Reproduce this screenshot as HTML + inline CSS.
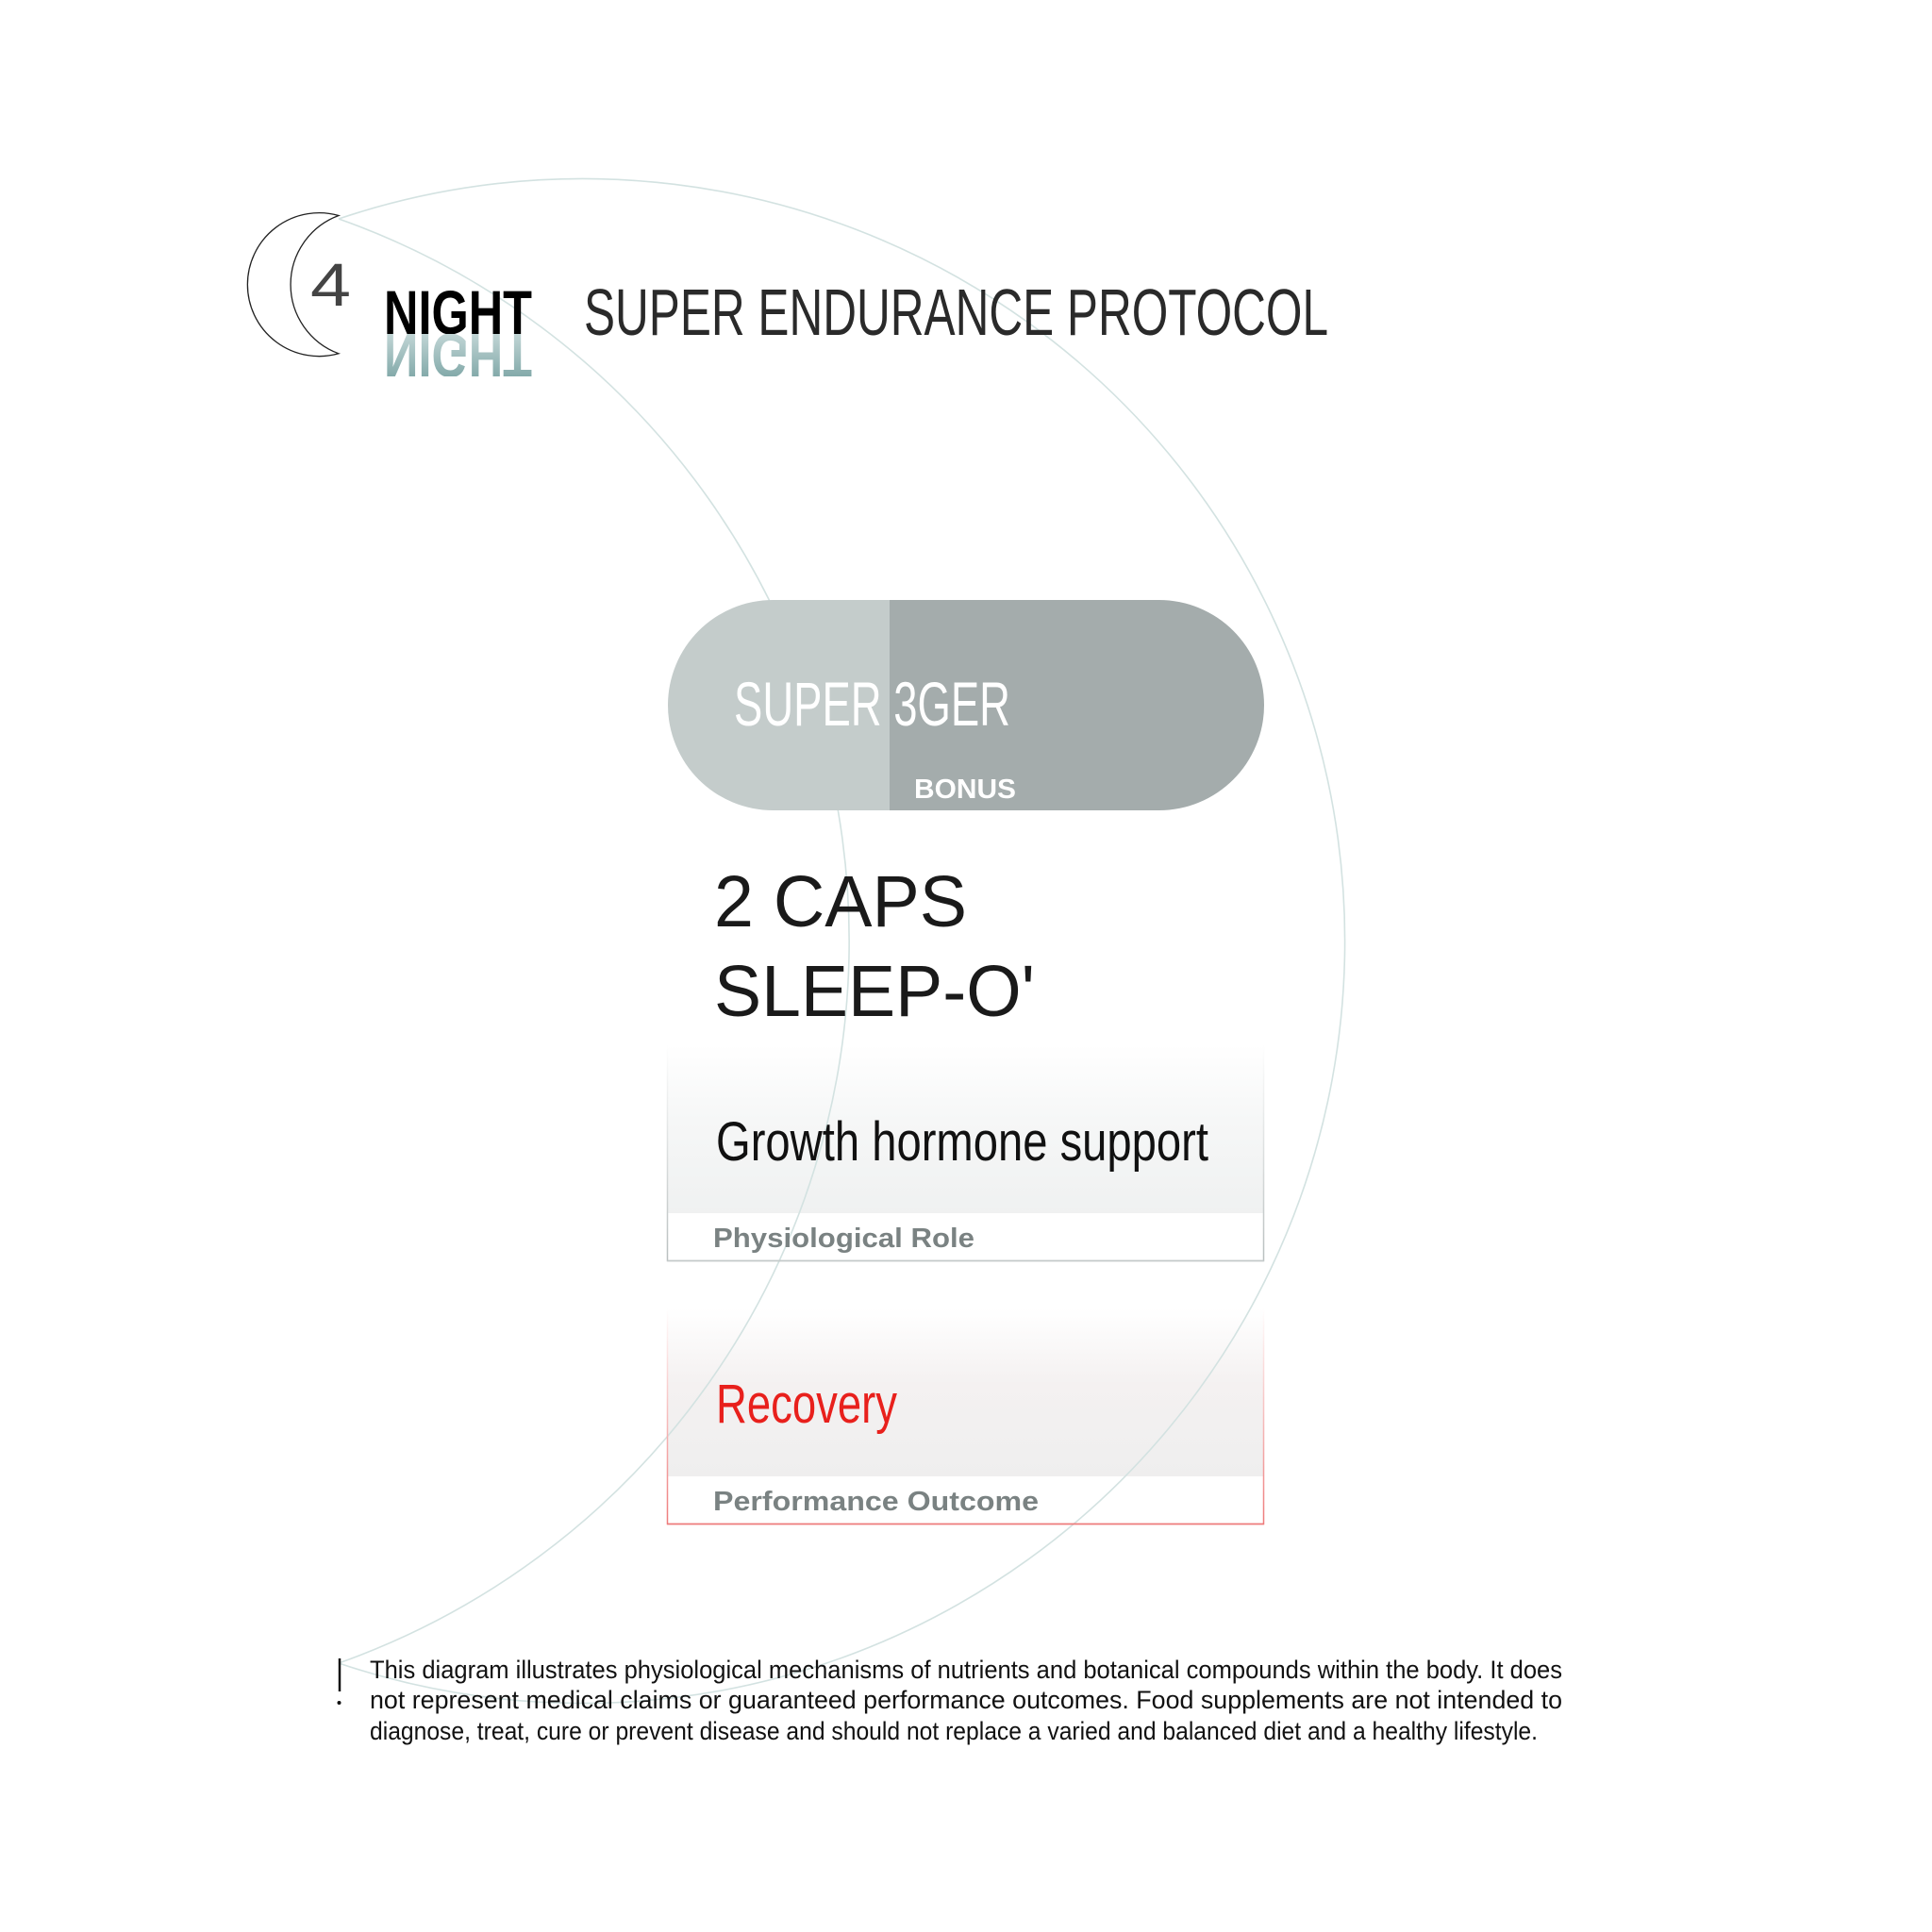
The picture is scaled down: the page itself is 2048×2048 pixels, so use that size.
<!DOCTYPE html>
<html><head><meta charset="utf-8"><style>
html,body{margin:0;padding:0;background:#fff;}
svg{display:block;}
.n{font-family:"Liberation Sans Narrow","Liberation Sans",sans-serif;}
.s{font-family:"Liberation Sans",sans-serif;}
</style></head><body>
<svg width="2048" height="2048" viewBox="0 0 2048 2048" xmlns="http://www.w3.org/2000/svg">
<defs>
<linearGradient id="refl" x1="0" y1="0" x2="0" y2="1">
<stop offset="0" stop-color="#6f9c9c"/><stop offset="1" stop-color="#d4e2e2"/>
</linearGradient>
<linearGradient id="g1" x1="0" y1="0" x2="0" y2="1">
<stop offset="0" stop-color="#ffffff"/><stop offset="0.35" stop-color="#f6f7f7"/><stop offset="1" stop-color="#eceeee"/>
</linearGradient>
<linearGradient id="g2" x1="0" y1="0" x2="0" y2="1">
<stop offset="0" stop-color="#ffffff"/><stop offset="0.35" stop-color="#f4f1f1"/><stop offset="1" stop-color="#eceded"/>
</linearGradient>
<linearGradient id="b1" x1="0" y1="0" x2="0" y2="1">
<stop offset="0" stop-color="#ffffff"/><stop offset="1" stop-color="#b9bfbf"/>
</linearGradient>
<linearGradient id="b2" x1="0" y1="0" x2="0" y2="1">
<stop offset="0" stop-color="#ffffff"/><stop offset="1" stop-color="#ee7b7b"/>
</linearGradient>
<clipPath id="rc"><rect x="400" y="354" width="200" height="45"/></clipPath>
</defs>

<!-- boxes backgrounds -->
<rect x="707" y="1107" width="633" height="230" fill="url(#g1)"/>
<rect x="707" y="1286" width="633" height="51" fill="#fff"/>
<rect x="707" y="1387" width="633" height="229" fill="url(#g2)"/>
<rect x="707" y="1565" width="633" height="51" fill="#fff"/>

<!-- arcs (over boxes, faint) -->
<path d="M359,232 A808,808 0 1,1 359,1763" fill="none" stroke="#d3e2e1" stroke-width="1.6"/>
<path d="M359,232 A812,812 0 0,1 359,1763" fill="none" stroke="#d3e2e1" stroke-width="1.6"/>

<!-- moon -->
<path d="M359,228.5 A76,76 0 1,0 359,374.8 A78,78 0 0,1 359,228.5 Z" fill="none" stroke="#222" stroke-width="1.3"/>
<text x="329" y="324" class="s" font-size="64" fill="#444" textLength="43" lengthAdjust="spacingAndGlyphs">4</text>

<!-- title -->
<text x="407" y="354" class="n" font-size="66" font-weight="bold" fill="#000" textLength="157" lengthAdjust="spacingAndGlyphs">NIGHT</text>
<g clip-path="url(#rc)">
<text x="407" y="-354" transform="scale(1,-1)" class="n" font-size="66" font-weight="bold" fill="url(#refl)" textLength="157" lengthAdjust="spacingAndGlyphs">NIGHT</text>
</g>
<text x="619" y="355" class="n" font-size="70" fill="#2a2a2a" textLength="789" lengthAdjust="spacingAndGlyphs">SUPER ENDURANCE PROTOCOL</text>

<!-- pill -->
<path d="M819.5,636 H943 V859 H819.5 A111.5,111.5 0 0,1 819.5,636 Z" fill="#c4cccb"/>
<path d="M943,636 H1228.5 A111.5,111.5 0 0,1 1228.5,859 H943 Z" fill="#a4acac"/>
<text x="778" y="769" class="n" font-size="66" fill="#fff" textLength="293" lengthAdjust="spacingAndGlyphs">SUPER 3GER</text>
<text x="969" y="846" class="s" font-size="29" font-weight="bold" fill="#fff" textLength="108" lengthAdjust="spacingAndGlyphs">BONUS</text>

<!-- caps -->
<text x="757" y="982" class="s" font-size="77" fill="#1a1a1a" textLength="268" lengthAdjust="spacingAndGlyphs">2 CAPS</text>
<text x="757" y="1077" class="s" font-size="77" fill="#1a1a1a" textLength="340" lengthAdjust="spacingAndGlyphs">SLEEP-O'</text>

<!-- box1 -->
<path d="M707.5,1107 V1336.5 H1339.5 V1107" fill="none" stroke="url(#b1)" stroke-width="1.5"/>
<line x1="707" y1="1336.5" x2="1340" y2="1336.5" stroke="#c4caca" stroke-width="1.5"/>
<text x="759" y="1230" class="n" font-size="58" fill="#111" textLength="522" lengthAdjust="spacingAndGlyphs">Growth hormone support</text>
<text x="756" y="1322" class="s" font-size="29" font-weight="bold" fill="#7a8282" textLength="277" lengthAdjust="spacingAndGlyphs">Physiological Role</text>

<!-- box2 -->
<path d="M707.5,1387 V1615.5 H1339.5 V1387" fill="none" stroke="url(#b2)" stroke-width="1.5"/>
<line x1="707" y1="1615.5" x2="1340" y2="1615.5" stroke="#ee7b7b" stroke-width="1.5"/>
<text x="759" y="1508" class="n" font-size="58" fill="#e8201c" textLength="192" lengthAdjust="spacingAndGlyphs">Recovery</text>
<text x="756" y="1601" class="s" font-size="29" font-weight="bold" fill="#7a8282" textLength="345" lengthAdjust="spacingAndGlyphs">Performance Outcome</text>

<!-- disclaimer -->
<line x1="360" y1="1758" x2="360" y2="1793" stroke="#111" stroke-width="2.5"/>
<circle cx="359.5" cy="1805" r="2" fill="#111"/>
<text x="392" y="1779" class="n" font-size="27" fill="#111" textLength="1264" lengthAdjust="spacingAndGlyphs">This diagram illustrates physiological mechanisms of nutrients and botanical compounds within the body. It does</text>
<text x="392" y="1811" class="n" font-size="27" fill="#111" textLength="1264" lengthAdjust="spacingAndGlyphs">not represent medical claims or guaranteed performance outcomes. Food supplements are not intended to</text>
<text x="392" y="1844" class="n" font-size="27" fill="#111" textLength="1238" lengthAdjust="spacingAndGlyphs">diagnose, treat, cure or prevent disease and should not replace a varied and balanced diet and a healthy lifestyle.</text>
</svg>
</body></html>
